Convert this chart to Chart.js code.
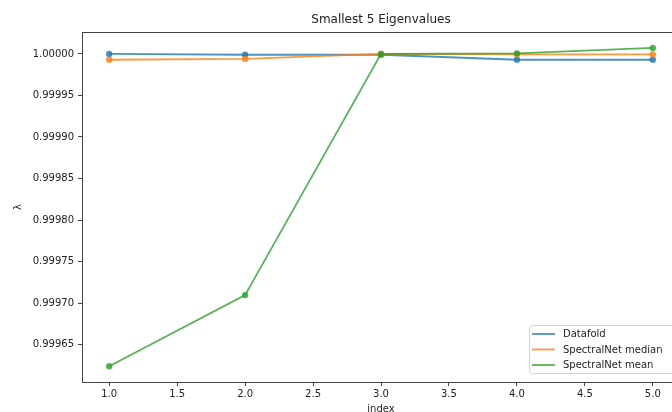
<!DOCTYPE html>
<html>
<head>
  <title>Smallest 5 Eigenvalues</title>
  <script src="https://cdn.jsdelivr.net/npm/chart.js"></script>
  <style>
    body { margin: 0; background: #fff; }
    #wrap { width: 672px; height: 412px; overflow: hidden; }
  </style>
</head>
<body>
  <div id="wrap"><canvas id="myChart" width="700" height="430"></canvas></div>

  <script>
    const indexes = [1, 2, 3, 4, 5];
    const datafold = [1.0, 0.999999, 0.999999, 0.999993, 0.999993];
    const spectralMedian = [0.999993, 0.999994, 1.0, 0.9999995, 0.9999995];
    const spectralMean = [0.999624, 0.9997096, 1.0, 1.0000007, 1.0000072];
    const xTicks = [1.0, 1.5, 2.0, 2.5, 3.0, 3.5, 4.0, 4.5, 5.0];
    const yTicks = [0.99965, 0.99970, 0.99975, 0.99980, 0.99985, 0.99990, 0.99995, 1.00000];

    const font = 'DejaVu Sans';
    const colors = ['rgba(31,119,180,0.8)', 'rgba(255,127,14,0.8)', 'rgba(44,160,44,0.8)'];

    function series(label, values, color, order) {
      return {
        label,
        data: values.map((v, i) => ({ x: indexes[i], y: v })),
        borderColor: color,
        backgroundColor: color,
        borderWidth: 1.8,
        pointRadius: 3.2,
        pointBorderWidth: 0,
        order
      };
    }

    // frame, title and legend like matplotlib
    const mplStyle = {
      id: 'mplStyle',
      afterDraw(chart) {
        const { ctx, chartArea: a } = chart;
        ctx.save();
        ctx.strokeStyle = '#444';
        ctx.lineWidth = 1;
        ctx.strokeRect(Math.round(a.left) + 0.5, Math.round(a.top) + 0.5, a.right - a.left, a.bottom - a.top);

        ctx.fillStyle = '#222';
        ctx.font = '12px "' + font + '"';
        ctx.textAlign = 'center';
        ctx.textBaseline = 'middle';
        ctx.fillText('Smallest 5 Eigenvalues', (a.left + a.right) / 2, 20);

        // legend box, lower right
        const bx = 529, by = 325, bw = 146, bh = 48;
        ctx.beginPath();
        ctx.roundRect(bx + 0.5, by + 0.5, bw, bh, 3);
        ctx.fillStyle = 'rgba(255,255,255,0.8)';
        ctx.fill();
        ctx.strokeStyle = '#d5d5d5';
        ctx.stroke();
        ctx.font = '10px "' + font + '"';
        ctx.textAlign = 'left';
        chart.data.datasets.forEach((ds, i) => {
          const y = 334 + i * 15.5;
          ctx.strokeStyle = ds.borderColor;
          ctx.lineWidth = 1.8;
          ctx.beginPath();
          ctx.moveTo(532, y);
          ctx.lineTo(555, y);
          ctx.stroke();
          ctx.fillStyle = '#222';
          ctx.fillText(ds.label, 563, y + 0.5);
        });
        ctx.restore();
      }
    };

    const ctx = document.getElementById('myChart').getContext('2d');
    new Chart(ctx, {
      type: 'line',
      data: {
        datasets: [
          series('Datafold', datafold, colors[0], 3),
          series('SpectralNet median', spectralMedian, colors[1], 2),
          series('SpectralNet mean', spectralMean, colors[2], 1)
        ]
      },
      options: {
        responsive: false,
        animation: false,
        devicePixelRatio: 1,
        layout: { padding: { top: 32, right: 20, left: 0, bottom: 0 } },
        plugins: { legend: { display: false }, title: { display: false }, tooltip: { enabled: false } },
        scales: {
          x: {
            type: 'linear',
            min: 0.8,
            max: 5.2,
            afterFit: s => { s.height = 48; },
            afterBuildTicks: s => { s.ticks = xTicks.map(v => ({ value: v })); },
            grid: { drawOnChartArea: false, tickLength: 4, color: '#444' },
            border: { display: false },
            ticks: {
              padding: 2,
              color: '#222',
              font: { family: font, size: 10 },
              callback: v => v.toFixed(1)
            },
            title: { display: true, text: 'index', color: '#222', font: { family: font, size: 10 }, padding: { top: 0, bottom: 15 } }
          },
          y: {
            type: 'linear',
            min: 0.999605,
            max: 1.0000264,
            afterFit: s => { s.width = 82; },
            afterBuildTicks: s => { s.ticks = yTicks.map(v => ({ value: v })); },
            grid: { drawOnChartArea: false, tickLength: 4, color: '#444' },
            border: { display: false },
            ticks: {
              padding: 4,
              color: '#222',
              font: { family: font, size: 10 },
              callback: v => v.toFixed(5)
            },
            title: { display: true, text: 'λ', color: '#222', font: { family: font, size: 10 }, padding: { top: 12, bottom: 0 } }
          }
        }
      },
      plugins: [mplStyle]
    });
  </script>
</body>
</html>
